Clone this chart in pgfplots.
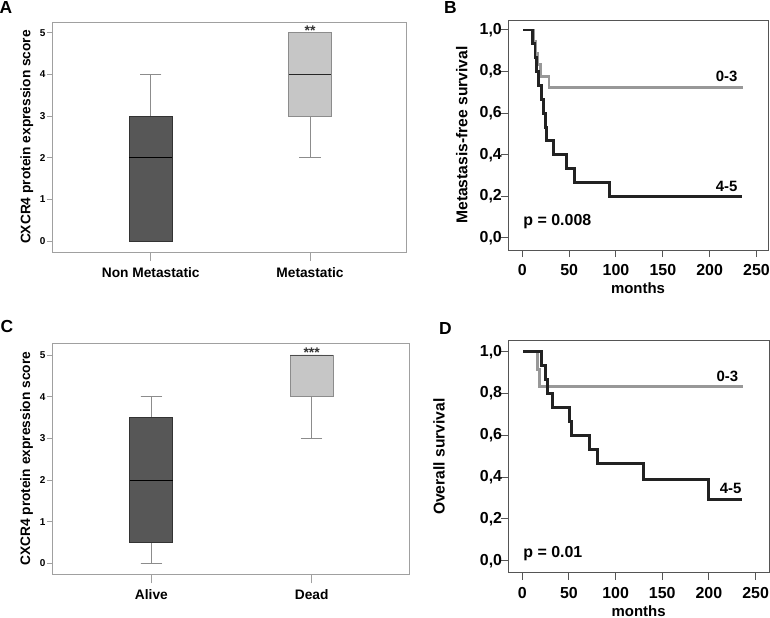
\documentclass[border=0pt]{standalone}
\usepackage{fontspec}
\setmainfont{Liberation Sans}
\usepackage{pgfplots}
\pgfplotsset{compat=1.18}
\usepgfplotslibrary{statistics}
\definecolor{boxdark}{HTML}{575757}
\definecolor{boxlight}{HTML}{C6C6C6}
\definecolor{framelight}{HTML}{A0A0A0}
\definecolor{framedark}{HTML}{555555}
\definecolor{whisk}{HTML}{8C8C8C}
\definecolor{kmblack}{HTML}{222222}
\definecolor{kmgray}{HTML}{989898}
\newcommand{\fs}[1]{\fontsize{#1}{#1}\selectfont\bfseries}
\pgfplotsset{
  boxstyle/.style={
    anchor=north west, scale only axis,
    boxplot/draw direction=y,
    xmin=-0.62, xmax=1.607, ymin=-0.26, ymax=5.26,
    axis line style={draw=framelight, line width=0.9bp},
    tick pos=left, tick align=outside,
    major tick style={draw=framelight, line width=0.9bp},
    major tick length=5bp,
    xtick style={/pgfplots/major tick length=9bp},
    xtick={0,1}, ytick={0,1,2,3,4,5},
    /pgf/number format/assume math mode=true,
    yticklabel style={font=\fs{10}, inner sep=1.5bp},
    xticklabel style={font=\fs{13.8}, yshift=-7bp},
    every axis y label/.style={at={(axis description cs:-0.071,0.5)}, rotate=90, anchor=center, font=\fs{13.8}},
  },
  kmstyle/.style={
    anchor=north west, scale only axis,
    axis line style={draw=framedark, line width=1bp},
    tick pos=left, tick align=outside,
    major tick style={draw=framedark, line width=1bp},
    major tick length=7bp,
    xtick={0,50,100,150,200,250}, ytick={0,0.2,0.4,0.6,0.8,1},
    yticklabels={{0,0},{0,2},{0,4},{0,6},{0,8},{1,0}},
    /pgf/number format/assume math mode=true,
    yticklabel style={font=\fs{16}, inner sep=0bp, xshift=1bp},
    xticklabel style={font=\fs{16}, inner sep=2bp, yshift=-5bp},
    every axis x label/.style={at={(axis description cs:0.5,0)}, anchor=center, yshift=-38bp, font=\fs{15}},
  },
}
\begin{document}
\begin{tikzpicture}
\useasboundingbox (0,0) rectangle (770bp,-618bp);
% ---------- Panel A ----------
\begin{axis}[boxstyle, at={(52bp,-22bp)}, width=354.7bp, height=230bp,
  xticklabels={Non Metastatic, Metastatic},
  ylabel={CXCR4 protein expression score}]
\addplot[boxplot prepared={draw position=0, lower whisker=0, lower quartile=0, median=2, upper quartile=3, upper whisker=4, box extend=0.268, whisker extend=0.134},
  draw=black!80, fill=boxdark, line width=0.9bp,
  boxplot/every whisker/.style={draw=whisk},
  boxplot/every median/.style={draw=black}] coordinates {};
\addplot[boxplot prepared={draw position=1, lower whisker=2, lower quartile=3, median=4, upper quartile=5, upper whisker=5, box extend=0.268, whisker extend=0.134},
  draw=whisk, fill=boxlight, line width=0.9bp,
  boxplot/every whisker/.style={draw=whisk},
  boxplot/every median/.style={draw=black!85}] coordinates {};
\node[font=\fs{14}, anchor=base, text=black!80] at (axis cs:1,4.93) {**};
\end{axis}
% ---------- Panel B ----------
\begin{axis}[kmstyle, at={(508bp,-20bp)}, width=260bp, height=230bp,
  xmin=-15.3, xmax=262.3, ymin=-0.058, ymax=1.048,
  xlabel={months},
  every axis y label/.style={at={(axis description cs:-0.178,0.5)}, rotate=90, anchor=center, font=\fs{15.7}},
  ylabel={Metastasis-free survival}]
\addplot[const plot, draw=kmgray, line width=2.8bp] coordinates {
 (1,1) (12,0.944) (14,0.889) (16,0.833) (19,0.778) (28.5,0.722) (236,0.722)};
\addplot[const plot, draw=kmblack, line width=2.9bp] coordinates {
 (1,1) (11,0.933) (13.5,0.867) (15.5,0.8) (17.5,0.733) (20.5,0.667) (23,0.6) (24.5,0.533) (25.5,0.467) (33,0.4) (47,0.333) (56,0.267) (93,0.2) (235,0.2)};
\node[font=\fs{15}, anchor=east, inner sep=0] at (axis cs:229.8,0.775) {0-3};
\node[font=\fs{15}, anchor=east, inner sep=0] at (axis cs:229.8,0.247) {4-5};
\node[font=\fs{16}, anchor=west, inner sep=0] at (axis cs:1,0.078) {p = 0.008};
\end{axis}
% ---------- Panel C ----------
\begin{axis}[boxstyle, at={(52bp,-343.3bp)}, width=357bp, height=231bp,
  xticklabels={Alive, Dead}, ymax=5.28,
  ylabel={CXCR4 protein expression score}]
\addplot[boxplot prepared={draw position=0, lower whisker=0, lower quartile=0.5, median=2, upper quartile=3.5, upper whisker=4, box extend=0.268, whisker extend=0.134},
  draw=black!80, fill=boxdark, line width=0.9bp,
  boxplot/every whisker/.style={draw=whisk},
  boxplot/every median/.style={draw=black}] coordinates {};
\addplot[boxplot prepared={draw position=1, lower whisker=3, lower quartile=4, median=5, upper quartile=5, upper whisker=5, box extend=0.268, whisker extend=0.134},
  draw=whisk, fill=boxlight, line width=0.9bp,
  boxplot/every whisker/.style={draw=whisk},
  boxplot/every median/.style={draw=black!70}] coordinates {};
\node[font=\fs{14}, anchor=base, text=black!80] at (axis cs:1,4.93) {***};
\end{axis}
% ---------- Panel D ----------
\begin{axis}[kmstyle, at={(508.3bp,-340.7bp)}, width=260.7bp, height=232bp,
  xmin=-15, xmax=264.4, ymin=-0.057, ymax=1.053,
  xlabel={months},
  every axis y label/.style={at={(axis description cs:-0.266,0.5)}, rotate=90, anchor=center, font=\fs{15.7}},
  ylabel={Overall survival}]
\addplot[const plot, draw=kmgray, line width=2.8bp] coordinates {
 (1,1) (16.5,0.917) (18.5,0.833) (237,0.833)};
\addplot[const plot, draw=kmblack, line width=2.9bp] coordinates {
 (1,1) (20.7,0.933) (25,0.867) (27,0.8) (32.5,0.733) (50.4,0.667) (53,0.6) (72,0.533) (80.4,0.467) (129.6,0.389) (200,0.292) (235,0.292)};
\node[font=\fs{15}, anchor=east, inner sep=0] at (axis cs:231.5,0.884) {0-3};
\node[font=\fs{15}, anchor=east, inner sep=0] at (axis cs:235,0.346) {4-5};
\node[font=\fs{16}, anchor=west, inner sep=0] at (axis cs:1,0.035) {p = 0.01};
\end{axis}
% ---------- Panel letters ----------
\node[font=\fs{17.5}, anchor=north west, inner sep=0] at (-0.5bp,-1.5bp) {A};
\node[font=\fs{17.5}, anchor=north west, inner sep=0] at (444bp,-1.5bp) {B};
\node[font=\fs{17.5}, anchor=north west, inner sep=0] at (0.5bp,-320.5bp) {C};
\node[font=\fs{17.5}, anchor=north west, inner sep=0] at (439bp,-322bp) {D};
\end{tikzpicture}
\end{document}
